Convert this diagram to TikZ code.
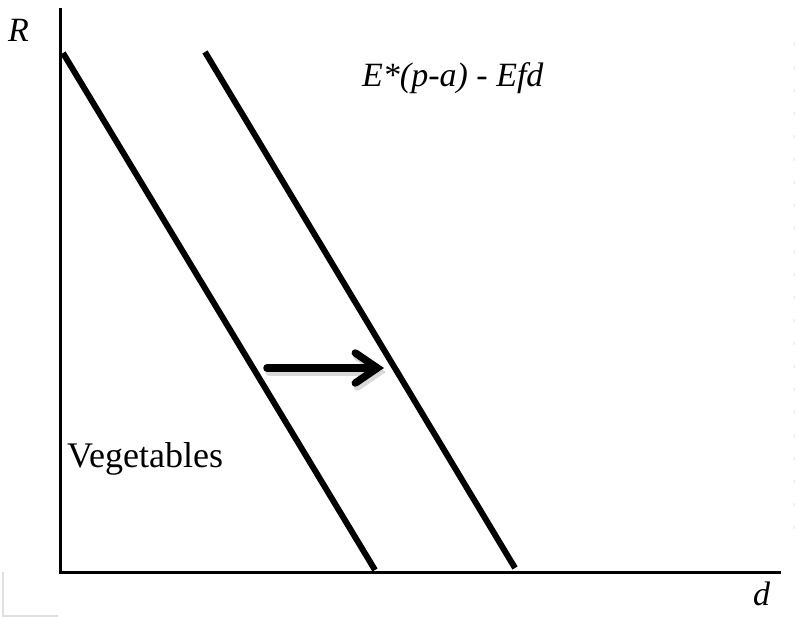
\documentclass[tikz,border=0pt]{standalone}
\usepackage{fontspec}
\setmainfont{Liberation Serif}
\usetikzlibrary{arrows.meta}
\begin{document}
\begin{tikzpicture}[x=1pt,y=-1pt,
  lbl/.style={font=\fontsize{34}{40}\selectfont, inner sep=0pt, anchor=base west},
  axis/.style={line width=3pt},
  curve/.style={line width=6pt},
  shiftarrow/.style={line width=7.5pt, line cap=round, -{Straight Barb[length=22pt,width=30pt,line cap=round]}},
  faint/.style={draw=black!12, line width=1.5pt}]
\useasboundingbox (0,0) rectangle (795,617);
% axes
\draw[axis] (60,8) -- (60,572) -- (781,572);
% demand lines
\draw[curve] (63,53) -- (375,570);
\draw[curve] (205,52) -- (515,568);
% shift arrow with soft shadow
\coordinate (a1) at (267,368);
\coordinate (a2) at (384,368);
\coordinate (s1) at (269,372);
\coordinate (s2) at (386,372);
\draw[shiftarrow, black!15] (s1) -- (s2);
\draw[shiftarrow] (a1) -- (a2);
% labels
\node[lbl] (R) at (8,42) {\itshape R};
\node[lbl] (E) at (362,87) {\itshape E*(p-a) - Efd};
\node[lbl, font=\fontsize{36}{42}\selectfont] (V) at (67,467) {Vegetables};
\node[lbl] (d) at (753,605) {\itshape d};
% faint scan artefacts
\draw[faint] (3,572) -- (3,616) -- (58,616);
\foreach \yy in {43,66,89,112,135,158,181,204,227,250,273,296,319,342,365,388,411,434,457,480,503,526}
  \fill[black!10] (793.5,\yy) rectangle (795,\yy+3);
\end{tikzpicture}
\end{document}
